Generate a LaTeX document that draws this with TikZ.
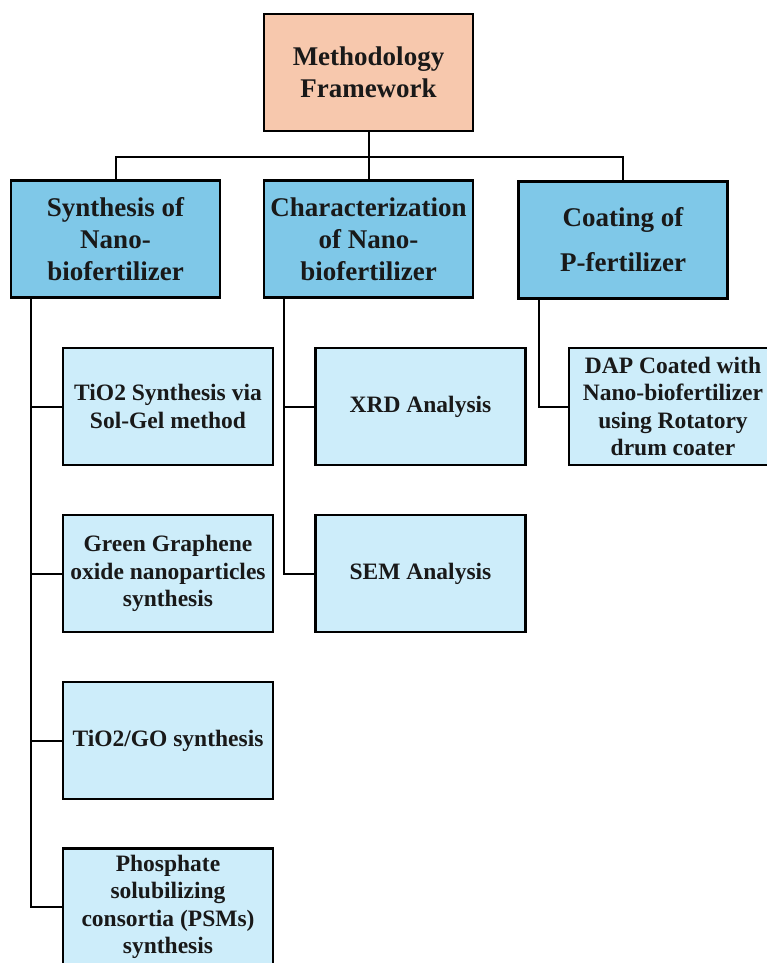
\documentclass[tikz,border=0pt]{standalone}
\usepackage{fontspec}
\setmainfont{Liberation Serif}
\definecolor{topc}{HTML}{F7C8AD}
\definecolor{midc}{HTML}{7FC8E8}
\definecolor{leafc}{HTML}{CDEDFA}
\begin{document}
\begin{tikzpicture}[x=1pt,y=-1pt,
  lvl/.style={draw=black, line width=2.5pt, align=center, text=black!90,
    font=\bfseries\fontsize{27}{32}\selectfont,
    minimum width=209pt, minimum height=117pt, inner sep=2pt},
  topbox/.style={lvl, fill=topc},
  midbox/.style={lvl, fill=midc},
  leafbox/.style={lvl, fill=leafc, minimum width=210pt,
    font=\bfseries\fontsize{23.5}{27.5}\selectfont},
  conn/.style={line width=2pt, draw=black}]
\useasboundingbox (0,0) rectangle (767,963);
\clip (0,0) rectangle (767,963);
% level 1
\node[topbox] (top) at (368.5,72.5) {Methodology\\Framework};
% level 2
\node[midbox] (syn) at (115.5,239) {Synthesis of\\Nano-\\biofertilizer};
\node[midbox] (char) at (368.5,239) {Characterization\\of Nano-\\biofertilizer};
\node[midbox] (coat) at (623,240) {Coating of\\[13pt]P-fertilizer};
% leaves
\node[leafbox] (c1) at (168,406.5) {TiO2 Synthesis via\\Sol-Gel method};
\node[leafbox] (c2) at (168,573.5) {Green Graphene\\oxide nanoparticles\\synthesis};
\node[leafbox] (c3) at (168,740.5) {TiO2/GO synthesis};
\node[leafbox] (c4) at (168,907) {Phosphate\\solubilizing\\consortia (PSMs)\\synthesis};
\node[leafbox] (x1) at (420.5,406.5) {XRD Analysis};
\node[leafbox] (x2) at (420.5,573.5) {SEM Analysis};
\node[leafbox, minimum width=208pt] (d1) at (673,406.5) {DAP Coated with\\Nano-biofertilizer\\using Rotatory\\drum coater};
% connectors
\coordinate (bus) at (368.5,157);
\draw[conn] (top.south) -- (bus);
\draw[conn] (syn.north) |- (bus) -| (coat.north);
\draw[conn] (char.north) -- (bus);
\coordinate (tsyn) at ([xshift=21pt]syn.south west);
\coordinate (tchar) at ([xshift=21pt]char.south west);
\coordinate (tcoat) at ([xshift=22pt]coat.south west);
\draw[conn] (tsyn) |- (c1.west);
\draw[conn] (tsyn) |- (c2.west);
\draw[conn] (tsyn) |- (c3.west);
\draw[conn] (tsyn) |- (c4.west);
\draw[conn] (tchar) |- (x1.west);
\draw[conn] (tchar) |- (x2.west);
\draw[conn] (tcoat) |- (d1.west);
\end{tikzpicture}
\end{document}
